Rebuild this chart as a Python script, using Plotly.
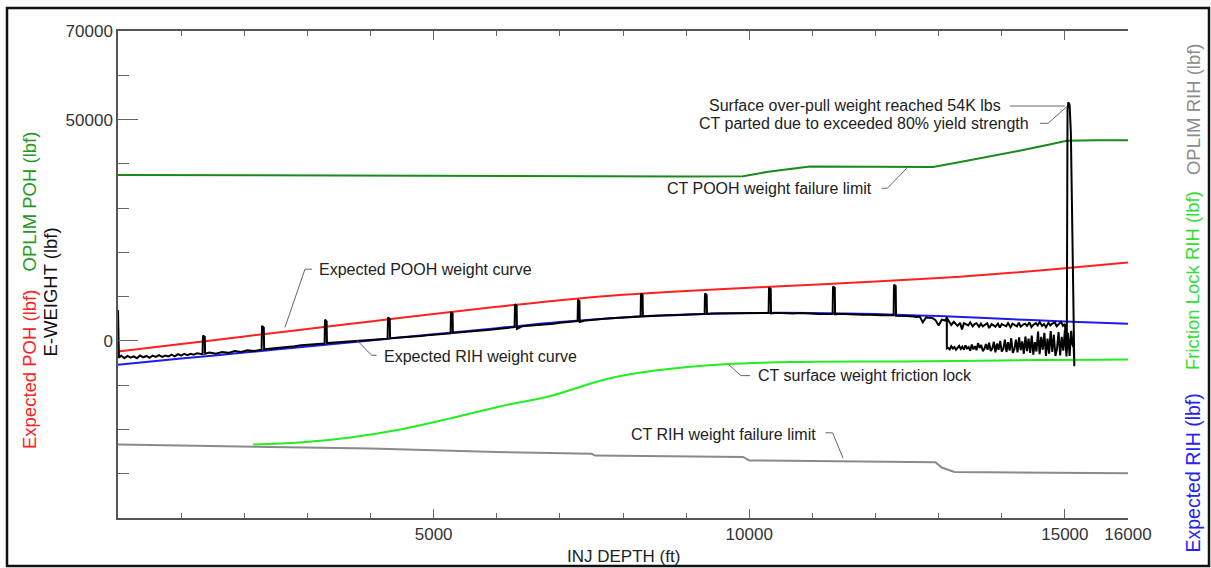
import plotly.graph_objects as go

# ---------------- data ----------------
exp_depth = [0, 1000, 2000, 3000, 4000, 5000, 6000, 7000, 8000, 9000, 10000,
             11000, 12000, 13000, 14000, 15000, 16000]
exp_poh = [-2400, -700, 1000, 2700, 4400, 6100, 7700, 9200, 10400, 11300, 12000,
           12700, 13400, 14200, 15200, 16400, 17700]
exp_rih = [-5400, -4000, -2640, -1260, 120, 1500, 2880, 4250, 5300, 5950, 6300,
           6300, 6050, 5600, 5000, 4400, 3850]

oplim_poh_depth = [0, 2000, 4000, 6000, 8000, 9000, 9900, 10300, 10960, 11500, 12000,
                   12910, 13300, 13800, 14300, 14700, 15030, 15500, 16000]
oplim_poh = [37500, 37400, 37300, 37200, 37150, 37150, 37200, 38200, 39400, 39400, 39350,
             39300, 40300, 41600, 43000, 44200, 45200, 45300, 45300]

fric_depth = [2140, 2880, 3680, 4470, 5260, 6050, 6840, 7730, 8510, 9620, 10800,
              12400, 13970, 15560, 16000]
fric_rih = [-23400, -22950, -21800, -20000, -17500, -14800, -12500, -8650, -6700, -5250, -4750,
            -4650, -4400, -4250, -4200]

oplim_rih_depth = [0, 2000, 4000, 6000, 7500, 7560, 9900, 10000, 12950, 13050, 13250, 16000]
oplim_rih = [-23400, -23800, -24300, -25100, -25500, -25900, -26200, -27000, -27400, -28600,
             -29600, -29900]

# E-WEIGHT: RIH pass with pick-up spikes, upper band, over-pull spike, lower band back
ew_depth = [0, 15, 50, 100, 150, 200, 250, 300, 350, 400, 450, 500, 550, 600, 650, 700,
            750, 800, 850, 900, 950, 1000, 1050, 1100, 1150, 1200, 1250, 1300,
            1340, 1346, 1375, 1380,
            1450, 1550, 1650, 1750, 1850, 1950, 2050, 2150, 2250,
            2275, 2281, 2310, 2315,
            2400, 2500, 2600, 2700, 2800, 2900, 3000, 3100, 3250,
            3273, 3279, 3305, 3310,
            3400, 3500, 3600, 3700, 3800, 3900, 4000, 4100, 4250,
            4271, 4277, 4305, 4310,
            4400, 4500, 4600, 4700, 4800, 4900, 5000, 5100, 5250,
            5269, 5275, 5300, 5305,
            5400, 5500, 5600, 5700, 5800, 5900, 6000, 6100, 6260,
            6283, 6289, 6315, 6320,
            6400, 6500, 6600, 6700, 6800, 6900, 7000, 7100, 7260,
            7281, 7287, 7310, 7315,
            7400, 7500, 7600, 7700, 7800, 7900, 8000, 8100, 8260,
            8279, 8285, 8310, 8315,
            8400, 8500, 8600, 8700, 8800, 8900, 9000, 9100, 9270,
            9293, 9299, 9325, 9330,
            9400, 9500, 9600, 9700, 9800, 9900, 10000, 10100, 10290,
            10307, 10313, 10340, 10345,
            10400, 10500, 10600, 10700, 10800, 10900, 11000, 11100, 11300,
            11321, 11327, 11355, 11360,
            11400, 11500, 11600, 11700, 11800, 11900, 12000, 12100, 12270,
            12287, 12293, 12320, 12325,
            12400, 12500, 12600, 12650, 12700, 12750, 12800, 12850, 12900, 12950,
            13000, 13050, 13100, 13130,
            13170, 13200, 13240, 13270, 13300, 13340, 13370, 13400, 13440, 13470,
            13500, 13540, 13570, 13600, 13640, 13670, 13700, 13740, 13770, 13800,
            13840, 13870, 13900, 13940, 13970, 14000, 14040, 14070, 14100, 14140,
            14170, 14200, 14240, 14270, 14300, 14340, 14370, 14400, 14440, 14470,
            14500, 14540, 14570, 14600, 14640, 14670, 14700, 14740, 14770, 14800,
            14840, 14870, 14900, 14940, 14970, 15000,
            15030, 15034, 15042, 15055, 15075, 15095, 15120, 15150, 15140,
            15120, 15100, 15075, 15050, 15025, 15000, 14975, 14950, 14925, 14900,
            14875, 14850, 14825, 14800, 14775, 14750, 14725, 14700, 14675, 14650,
            14625, 14600, 14575, 14550, 14525, 14500, 14475, 14450, 14425, 14400,
            14375, 14350, 14325, 14300, 14275, 14250, 14225, 14200, 14175, 14150,
            14125, 14100, 14075, 14050, 14025, 14000, 13975, 13950, 13925, 13900,
            13875, 13850, 13825, 13800, 13775, 13750, 13725, 13700, 13675, 13650,
            13625, 13600, 13575, 13550, 13525, 13500, 13475, 13450, 13425, 13400,
            13375, 13350, 13325, 13300, 13275, 13250, 13225, 13200, 13175, 13150,
            13130, 13130]
ew_weight = [7000, -3800, -3300, -3900, -3400, -3800, -3500, -3900, -3300, -3700, -3400,
             -3800, -3300, -3600, -3200, -3600, -3300, -3500, -3100, -3500, -3000, -3300,
             -2900, -3200, -2900, -3100, -2800, -3000,
             -3000, 1200, 900, -2900,
             -2600, -2900, -2500, -2700, -2300, -2500, -2100, -2300, -2000,
             -2000, 3400, 3000, -1900,
             -1800, -1700, -1500, -1300, -1200, -1000, -900, -800, -600,
             -600, 4800, 4400, -500,
             -400, -300, -100, -100, 100, 200, 300, 400, 500,
             500, 5300, 5000, 600,
             700, 800, 900, 900, 1100, 1300, 1400, 1500, 1700,
             1700, 6500, 6200, 1800,
             1900, 2000, 2200, 2300, 2400, 2500, 2700, 2900, 3100,
             3100, 8300, 8000, 2700,
             3300, 3400, 3500, 3600, 3800, 3900, 4100, 4300, 4500,
             4500, 9300, 9000, 4300,
             4600, 4700, 4900, 5000, 5100, 5200, 5300, 5400, 5500,
             5500, 10700, 10400, 5500,
             5600, 5700, 5700, 5800, 5800, 5900, 6000, 6000, 6100,
             6100, 10700, 10400, 6100,
             6200, 6200, 6300, 6300, 6300, 6300, 6300, 6300, 6300,
             6300, 12000, 11700, 6200,
             6300, 6300, 6200, 6200, 6300, 6200, 6200, 6100, 6100,
             6100, 12300, 12000, 6000,
             6100, 6100, 6000, 6000, 5900, 5900, 5800, 5800, 5800,
             5800, 12700, 12400, 5700,
             5700, 5600, 5500, 5400, 5500, 4200, 5300, 5300, 5200, 4700,
             3500, 4800, 4600, 5200,
             4200, 3600, 4300, 3900, 3400, 4100, 2600, 4000, 3700, 3500,
             4200, 3300, 3800, 4000, 3200, 3900, 3300, 3600, 4000, 2900,
             3800, 3500, 3200, 3900, 3000, 3800, 3400, 3300, 4000, 3100,
             3900, 3600, 3300, 4100, 3200, 3700, 3900, 3400, 4200, 3100,
             3600, 4000, 3500, 4300, 3400, 3800, 3100, 4100, 3500, 3900,
             4200, 3300, 3700, 4300, 3400, 3800,
             -2400, 42000, 52500, 53900, 53300, 47000, 25000, -5700, -1500,
             -800, 2300, -3400, 1800, -3500, 2400, -2200, 900, -3300, 2000,
             -1800, -3400, 1400, -2500, 2200, -2900, 500, -3400, 1800, -2000,
             900, -3000, 2100, -2400, -300, -3100, 1200, -2700, 500, -2300,
             1000, -2900, -100, -2100, 800, -2600, 300, -1900, -2700, 600,
             -2200, -300, -2500, 300, -1800, -2400, 0, -2000, -600, -2600,
             -200, -1700, -2300, -400, -2000, -700, -1800, -2300, -900, -1600,
             -500, -2100, -1200, -1900, -800, -2200, -1400, -1700, -1000, -2000,
             -1300, -1800, -1100, -1600, -2000, -1400, -1700, -1200, -1900, -1600,
             -1700, 5000]

x_tickvals = [5000, 10000, 15000, 16000]
x_ticktext = ["5000", "10000", "15000", "16000"]
y_tickvals = [0, 50000, 70000]
y_ticktext = ["0", "50000", "70000"]

# ---------------- style ----------------
REG = "Liberation Sans, Arial, sans-serif"
TXT = "#222222"
CONN = "#666666"
AX = "#555555"

fig = go.Figure()
fig.add_trace(go.Scatter(x=oplim_rih_depth, y=oplim_rih, mode="lines",
                         line=dict(color="#8a8a8a", width=2), name="OPLIM RIH"))
fig.add_trace(go.Scatter(x=fric_depth, y=fric_rih, mode="lines", line_shape="spline",
                         line=dict(color="#22ee22", width=2), name="Friction Lock RIH"))
fig.add_trace(go.Scatter(x=oplim_poh_depth, y=oplim_poh, mode="lines",
                         line=dict(color="#1a8a1a", width=2), name="OPLIM POH"))
fig.add_trace(go.Scatter(x=exp_depth, y=exp_poh, mode="lines", line_shape="spline",
                         line=dict(color="#ff2020", width=2), name="Expected POH"))
fig.add_trace(go.Scatter(x=exp_depth, y=exp_rih, mode="lines", line_shape="spline",
                         line=dict(color="#1c1cf0", width=2), name="Expected RIH"))
fig.add_trace(go.Scatter(x=ew_depth, y=ew_weight, mode="lines",
                         line=dict(color="#000000", width=2), name="E-WEIGHT"))

# annotation texts (horizontal)
labels = [
    ("Expected POOH weight curve", 3168, 16130, "left"),
    ("Expected RIH weight curve", 4198, -3570, "left"),
    ("Surface over-pull weight reached 54K lbs", 14004, 53200, "right"),
    ("CT parted due to exceeded 80% yield strength", 14448, 49050, "right"),
    ("CT POOH weight failure limit", 11961, 34470, "right"),
    ("CT surface weight friction lock", 10123, -7840, "left"),
    ("CT RIH weight failure limit", 11074, -21080, "right"),
]
for t, x, y, anc in labels:
    fig.add_annotation(x=x, y=y, xref="x", yref="y", text=t, showarrow=False,
                       xanchor=anc, yanchor="middle", borderpad=0,
                       font=dict(family=REG, size=16, color=TXT))

connectors = [
    [(2646, 3090), (2962, 16200), (3073, 16200)],
    [(3781, 200), (4018, -3260), (4097, -3260)],
    [(14131, 53060), (15002, 53060)],
    [(14606, 49150), (14733, 49150), (15029, 52900)],
    [(12098, 34470), (12187, 34470), (12494, 38990)],
    [(9680, -5440), (9870, -7840), (10012, -7840)],
    [(11208, -20760), (11320, -20760), (11486, -26450)],
]
shapes = []
for pts in connectors:
    p = "M " + " L ".join(f"{a},{b}" for a, b in pts)
    shapes.append(dict(type="path", xref="x", yref="y", path=p,
                       line=dict(color=CONN, width=1)))
# outer frame
shapes.append(dict(type="rect", xref="paper", yref="paper",
                   x0=-0.1099, x1=1.0802, y0=-0.0986, y1=1.0472,
                   line=dict(color="#111111", width=2.5), layer="below"))
fig.update_layout(shapes=shapes)

# axis titles (rotated)
def vtitle(text, x, y, color, size=18.5):
    fig.add_annotation(x=x, y=y, xref="paper", yref="paper", text=text, showarrow=False,
                       textangle=-90, xanchor="center", yanchor="middle",
                       font=dict(family=REG, size=size, color=color))

vtitle("Expected POH (lbf)", -0.0881, 0.3039, "#ff2222")
vtitle("OPLIM POH (lbf)", -0.0881, 0.650, "#1f9a1f")
vtitle("E-WEIGHT (lbf)", -0.0673, 0.463, "#111111")
vtitle("Expected RIH (lbf)", 1.0644, 0.0914, "#2424f0", 19.5)
vtitle("Friction Lock RIH (lbf)", 1.0644, 0.4867, "#33dd33")
vtitle("OPLIM RIH (lbf)", 1.0644, 0.8398, "#8c8c8c")

fig.add_annotation(x=0.5, y=-0.080, xref="paper", yref="paper", text="INJ DEPTH (ft)",
                   showarrow=False, xanchor="center", yanchor="middle",
                   font=dict(family=REG, size=17, color=TXT))

tickfont = dict(family=REG, size=17, color="#333333")
fig.update_layout(
    width=1211, height=568,
    margin=dict(l=118, r=83, t=31, b=50),
    paper_bgcolor="white", plot_bgcolor="white",
    showlegend=False,
    xaxis=dict(range=[0, 16000], showline=True, linecolor=AX, linewidth=1.5,
               mirror="ticks", ticks="inside", tickvals=x_tickvals, ticktext=x_ticktext,
               ticklen=9, tickcolor="#666666", tickwidth=1,
               minor=dict(dtick=1000, tick0=0, ticklen=5, ticks="inside", tickcolor="#666666"),
               showgrid=False, zeroline=False, tickfont=tickfont),
    yaxis=dict(range=[-40000, 70000], showline=True, linecolor=AX, linewidth=1.5,
               ticks="inside", tickvals=y_tickvals, ticktext=y_ticktext,
               ticklen=20, tickcolor="#666666", tickwidth=1,
               minor=dict(dtick=10000, tick0=0, ticklen=11, ticks="inside", tickcolor="#666666"),
               showgrid=False, zeroline=False, tickfont=tickfont),
    yaxis2=dict(range=[-40000, 70000], overlaying="y", side="right", showline=True,
                linecolor=AX, linewidth=1.5, ticks="inside", tickvals=y_tickvals,
                ticktext=y_ticktext, ticklen=20, tickcolor="#666666", tickwidth=1,
                minor=dict(dtick=10000, tick0=0, ticklen=11, ticks="inside", tickcolor="#666666"),
                showgrid=False, zeroline=False,
                tickfont=dict(family=REG, size=17, color="#2222ee")),
)

fig.write_html("out.html", config={"displayModeBar": False},
               post_script="document.body.style.margin='0';document.body.style.overflow='hidden';")
